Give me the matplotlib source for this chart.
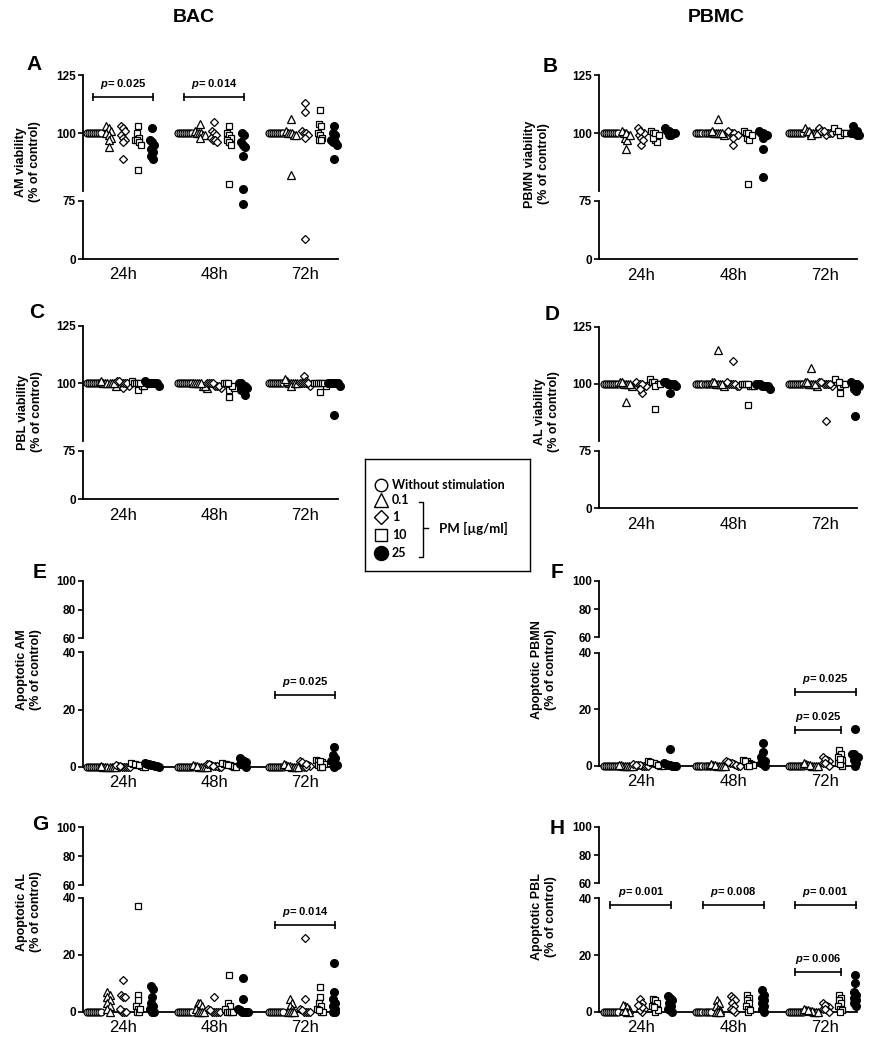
import matplotlib.pyplot as plt

W, H = 871, 1050
plt.rcParams['font.family'] = ['Liberation Sans', 'DejaVu Sans']
plt.rcParams['mathtext.fontset'] = 'custom'
plt.rcParams['mathtext.it'] = 'Liberation Sans:italic:bold'
plt.rcParams['mathtext.rm'] = 'Liberation Sans:bold'

# ----- DATA -----
TIMES = ["24h", "48h", "72h"]
GROUPS = ["Without stimulation", "0.1", "1", "10", "25"]

# each time point: [control, 0.1, 1, 10, 25 ug/ml], values in % of control
AM_VIAB = {
    "24h": [[100, 100, 100, 100, 100, 100, 100, 100],
            [103, 102, 101, 100, 99, 98, 97, 94],
            [103, 102, 101, 99, 98, 97, 96, 89],
            [103, 100, 98, 97, 97, 96, 95, 84],
            [102, 97, 96, 95, 93, 92, 90, 89]],
    "48h": [[100, 100, 100, 100, 100, 100, 100, 100],
            [104, 101, 100, 100, 100, 99, 99, 98],
            [105, 101, 100, 99, 98, 97, 97, 96],
            [103, 100, 99, 98, 97, 96, 95, 78],
            [100, 99, 96, 95, 94, 90, 76, 71]],
    "72h": [[100, 100, 100, 100, 100, 100, 100, 100],
            [106, 101, 100, 100, 100, 99, 99, 82],
            [113, 109, 101, 100, 100, 99, 98, 26],
            [110, 104, 103, 100, 99, 98, 97, 97],
            [103, 100, 99, 97, 96, 96, 95, 89]],
}
PBMN_VIAB = {
    "24h": [[100, 100, 100, 100, 100, 100, 100, 100],
            [99, 100, 98, 97, 93, 101, 100, 99],
            [102, 100, 95, 99, 98, 97, 100, 101],
            [101, 100, 99, 97, 96, 98, 100, 99],
            [102, 101, 100, 100, 99, 99, 100, 101]],
    "48h": [[100, 100, 100, 100, 100, 100, 100, 100],
            [106, 100, 100, 101, 100, 99, 100, 100],
            [95, 100, 100, 99, 101, 100, 99, 98],
            [101, 100, 99, 98, 97, 78, 100, 99],
            [100, 99, 98, 93, 81, 100, 99, 101]],
    "72h": [[100, 100, 100, 100, 100, 100, 100, 100],
            [102, 101, 100, 100, 101, 100, 99, 100],
            [102, 100, 101, 100, 99, 100, 101, 100],
            [101, 102, 100, 100, 99, 101, 100, 100],
            [103, 101, 100, 100, 99, 99, 100, 101]],
}
PBL_VIAB = {
    "24h": [[100, 100, 100, 100, 100, 100, 100, 100],
            [100, 100, 101, 100, 99, 100, 100, 100],
            [101, 100, 98, 99, 100, 101, 100, 100],
            [101, 100, 97, 99, 100, 100, 99, 100],
            [100, 100, 100, 99, 101, 100, 100, 100]],
    "48h": [[100, 100, 100, 100, 100, 100, 100, 100],
            [100, 99, 100, 98, 99, 100, 100, 100],
            [100, 99, 98, 99, 100, 100, 99, 100],
            [100, 99, 97, 94, 98, 100, 99, 100],
            [100, 99, 98, 97, 95, 97, 99, 100]],
    "72h": [[100, 100, 100, 100, 100, 100, 100, 100],
            [100, 101, 100, 102, 100, 99, 100, 100],
            [103, 100, 100, 101, 100, 100, 99, 100],
            [100, 100, 96, 100, 99, 100, 100, 100],
            [100, 100, 100, 100, 86, 100, 99, 100]],
}
AL_VIAB = {
    "24h": [[100, 100, 100, 100, 100, 100, 100, 100],
            [101, 100, 92, 100, 99, 100, 101, 100],
            [96, 99, 100, 101, 100, 99, 100, 98],
            [102, 101, 89, 100, 101, 100, 99, 100],
            [101, 100, 96, 100, 99, 100, 101, 100]],
    "48h": [[100, 100, 100, 100, 100, 100, 100, 100],
            [115, 100, 101, 100, 100, 99, 101, 100],
            [110, 100, 100, 101, 99, 100, 100, 99],
            [100, 99, 91, 100, 99, 100, 100, 99],
            [99, 100, 99, 98, 100, 99, 100, 99]],
    "72h": [[100, 100, 100, 100, 100, 100, 100, 100],
            [107, 100, 101, 100, 99, 100, 100, 101],
            [84, 101, 100, 100, 99, 100, 100, 101],
            [101, 102, 96, 100, 99, 100, 100, 101],
            [100, 101, 97, 86, 100, 99, 100, 98]],
}
AM_APOP = {
    "24h": [[0, 0, 0, 0, 0, 0, 0, 0],
            [0, 0, 0, 0, 0.2, 0, 0, 0],
            [0, 0, 0.3, 0.5, 0, 0.2, 0, 0],
            [0.5, 1, 1.2, 0.8, 0.3, 0, 0.5, 0],
            [1, 0.8, 1.2, 0.5, 0.3, 0, 0.6, 0.4]],
    "48h": [[0, 0, 0, 0, 0, 0, 0, 0],
            [0, 0.3, 0.5, 0, 0.2, 0, 0, 0],
            [0.5, 1, 0.3, 0, 0.8, 0.2, 0, 0.4],
            [1, 0.5, 1.2, 0, 0.3, 0.8, 0, 0.6],
            [3, 2.5, 1.5, 1, 0.5, 0, 0.8, 2]],
    "72h": [[0, 0, 0, 0, 0, 0, 0, 0],
            [0, 0.5, 0.2, 0, 0.8, 0, 0.3, 0],
            [2, 1, 0.5, 0, 1.5, 0.3, 0, 0.8],
            [2.5, 2, 1.5, 1, 0.5, 0, 0, 2],
            [7, 4, 3, 2, 1, 0.5, 0, 1.5]],
}
PBMN_APOP = {
    "24h": [[0, 0, 0, 0, 0, 0, 0, 0],
            [0, 0, 0.2, 0, 0, 0.3, 0, 0],
            [0, 0.3, 0.5, 0, 0.2, 0, 0.4, 0],
            [1.5, 1, 0.5, 0, 0.8, 0, 0.3, 1.2],
            [6, 0.5, 0, 0.3, 0, 1, 0, 0.2]],
    "48h": [[0, 0, 0, 0, 0, 0, 0, 0],
            [0, 0.3, 0, 0.5, 0.2, 0, 0, 0],
            [1, 1.5, 0.5, 0, 0.8, 0.3, 0, 1.2],
            [2, 1.5, 1, 0.5, 0, 1.8, 0.3, 0],
            [8, 5, 3, 2, 1, 0.5, 0, 1.5]],
    "72h": [[0, 0, 0, 0, 0, 0, 0, 0],
            [0, 0.5, 0.3, 0, 1, 0.2, 0, 0],
            [3, 2, 1.5, 1, 0.5, 0, 2.5, 0.8],
            [5.5, 4, 3, 2, 1, 0, 0.5, 2.5],
            [13, 4, 4, 3, 2, 1, 0, 3]],
}
AL_APOP = {
    "24h": [[0, 0, 0, 0, 0, 0, 0, 0],
            [7, 6, 5, 4, 3, 2, 1, 0],
            [11, 6, 5, 5, 0, 0, 1, 0],
            [37, 6, 4, 2, 1, 0, 0, 1],
            [8, 9, 5, 3, 2, 1, 0, 0]],
    "48h": [[0, 0, 0, 0, 0, 0, 0, 0],
            [3, 3, 2, 1, 0, 0, 0, 0],
            [5, 1, 0, 0, 0, 0.5, 0, 0],
            [13, 3, 2, 1, 0, 0, 0, 0],
            [12, 4.5, 1, 0.5, 0, 0, 0, 0]],
    "72h": [[0, 0, 0, 0, 0, 0, 0, 0],
            [4.5, 3, 2, 1, 0, 0, 0, 0],
            [26, 4.5, 1, 0, 0, 0, 0.5, 0],
            [8.5, 5, 3, 2, 1, 0, 0, 0.5],
            [17, 7, 4.5, 3, 2, 1, 0, 0]],
}
PBL_APOP = {
    "24h": [[0, 0, 0, 0, 0, 0, 0, 0],
            [0.5, 1, 2, 2.5, 1.5, 0, 0, 0.3],
            [4.5, 3, 2, 1, 0, 0.5, 1.5, 2.5],
            [4.5, 4, 3, 2, 1, 0, 0.5, 1.5],
            [5.5, 5, 4, 3, 2, 1, 0, 0.5]],
    "48h": [[0, 0, 0, 0, 0, 0, 0, 0],
            [4, 3, 2, 1, 0, 0.5, 0, 0],
            [5.5, 5, 4, 3, 2, 1, 0, 0.5],
            [6, 5, 4, 3, 2, 1, 0, 0.5],
            [7.5, 6, 5, 4, 3, 2, 1, 0]],
    "72h": [[0, 0, 0, 0, 0, 0, 0, 0],
            [0, 0.5, 0.3, 0, 1, 0.2, 0, 0.5],
            [3, 2, 1.5, 1, 0.5, 0, 2.5, 0.8],
            [6, 5, 4, 3, 2, 1, 0.5, 0],
            [13, 10, 7, 6, 5, 4, 3, 2]],
}

# significance bars: (time index, from group, to group, y, p value)
BRACKETS_A = [(0, 0, 4, 115.5, "0.025"), (1, 0, 4, 115.5, "0.014")]
BRACKETS_E = [(2, 0, 4, 25, "0.025")]
BRACKETS_F = [(2, 0, 4, 26, "0.025"), (2, 0, 3, 12.5, "0.025")]
BRACKETS_G = [(2, 0, 4, 30.4, "0.014")]
BRACKETS_H = [(0, 0, 4, 37.6, "0.001"), (1, 0, 4, 37.6, "0.008"),
              (2, 0, 4, 37.6, "0.001"), (2, 0, 3, 13.9, "0.006")]

# ----- STYLE -----
MARKERS = ['o', '^', 'D', 's', 'o']
FACES = ['white', 'white', 'white', 'white', 'black']
SIZES = [5.0, 5.6, 4.2, 5.0, 5.6]
SUB_STEP = 0.16
SPREAD = 0.022
COLS = {0: (83, 338, (-0.44, 2.36)), 1: (599, 857, (-0.45, 2.34))}

KINDS = {
    'viab': dict(up=(75, 125), lo=(0, 75), up_ticks=[100, 125], lo_ticks=[0, 75],
                 split=75, rowgap=2.2),
    'apop': dict(up=(60, 100), lo=(0, 40), up_ticks=[60, 80, 100], lo_ticks=[0, 20, 40],
                 split=50, rowgap=1.8),
}


def px_rect(x0, x1, ytop, ybot):
    return [x0 / W, 1 - ybot / H, (x1 - x0) / W, (ybot - ytop) / H]


def spread_x(center, vals, gap):
    # scatter-dot layout: points of similar value are spread side by side
    order = sorted(range(len(vals)), key=lambda i: -vals[i])
    xs = [0.0] * len(vals)
    rows, cur = [], []
    for i in order:
        if cur and vals[cur[0]] - vals[i] > gap:
            rows.append(cur)
            cur = []
        cur.append(i)
    rows.append(cur)
    for row in rows:
        m = len(row)
        for j, i in enumerate(row):
            xs[i] = center + (j - (m - 1) / 2) * SPREAD
    return xs


fig = plt.figure(figsize=(W / 100, H / 100), dpi=100)


def style_axis(ax, ylim, ticks, bottom, xlim):
    ax.set_ylim(*ylim)
    ax.set_xlim(*xlim)
    for s in ['top', 'right']:
        ax.spines[s].set_visible(False)
    ax.spines['left'].set_linewidth(1.3)
    ax.spines['bottom'].set_linewidth(1.3)
    ax.spines['bottom'].set_visible(bottom)
    ax.set_yticks(ticks, [str(t) for t in ticks], fontweight='bold', fontsize=8.5)
    ax.tick_params(axis='y', length=3.5, width=1.2, pad=1.5)
    ax.patch.set_alpha(0)
    if bottom:
        ax.set_xticks(range(len(TIMES)), TIMES, fontsize=12)
        ax.tick_params(axis='x', length=0, pad=6)
    else:
        ax.set_xticks([])


def panel(col, rows, data, kind, ylabel, lab_xy, letter, let_xy, brackets=()):
    x0, x1, xlim = COLS[col]
    ut, ub, lt, lb = rows
    k = KINDS[kind]
    ax_up = fig.add_axes(px_rect(x0, x1, ut, ub))
    ax_lo = fig.add_axes(px_rect(x0, x1, lt, lb))
    style_axis(ax_up, k['up'], k['up_ticks'], False, xlim)
    style_axis(ax_lo, k['lo'], k['lo_ticks'], True, xlim)
    for t, time in enumerate(TIMES):
        for g, vals in enumerate(data[time]):
            xs = spread_x(t + (g - 2) * SUB_STEP, vals, k['rowgap'])
            for ax, upper in ((ax_up, True), (ax_lo, False)):
                px = [x for x, v in zip(xs, vals) if (v >= k['split']) == upper]
                py = [v for v in vals if (v >= k['split']) == upper]
                ax.plot(px, py, ls='none', marker=MARKERS[g], ms=SIZES[g], mfc=FACES[g],
                        mec='black', mew=0.9, clip_on=False, zorder=3)
    for t, g0, g1, y, p in brackets:
        ax = ax_up if y >= k['split'] else ax_lo
        xa = t + (g0 - 2) * SUB_STEP - 0.01
        xb = t + (g1 - 2) * SUB_STEP + 0.01
        ax.plot([xa, xb], [y, y], color='black', lw=1.2, marker='|', ms=6, mew=1.2,
                clip_on=False, zorder=4)
        ax.annotate(r'$\mathit{p}$= ' + p, ((xa + xb) / 2, y), xytext=(0, 4.5),
                    textcoords='offset points', ha='center', va='bottom',
                    fontsize=8, fontweight='bold', annotation_clip=False)
    fig.text(lab_xy[0] / W, 1 - lab_xy[1] / H, ylabel, rotation=90, ha='center',
             va='center', multialignment='center', fontsize=9, fontweight='bold',
             linespacing=1.15)
    fig.text(let_xy[0] / W, 1 - let_xy[1] / H, letter, ha='center', va='center',
             fontsize=15, fontweight='bold')


panel(0, (75, 191.3, 200.7, 259), AM_VIAB, 'viab', "AM viability\n(% of control)",
      (28, 162), "A", (34, 64), BRACKETS_A)
panel(1, (75, 191.3, 200.7, 259.3), PBMN_VIAB, 'viab', "PBMN viability\n(% of control)",
      (537, 164), "B", (550, 66))
panel(0, (326, 440.6, 450.7, 499.3), PBL_VIAB, 'viab', "PBL viability\n(% of control)",
      (30, 412), "C", (37, 313))
panel(1, (326.7, 441.2, 450.7, 508.3), AL_VIAB, 'viab', "AL viability\n(% of control)",
      (547, 412), "D", (552, 315))
panel(0, (580.7, 638.3, 652.3, 766.7), AM_APOP, 'apop', "Apoptotic AM\n(% of control)",
      (29, 670), "E", (40, 573), BRACKETS_E)
panel(1, (580.7, 637.3, 652.7, 765.7), PBMN_APOP, 'apop', "Apoptotic PBMN\n(% of control)",
      (544, 670), "F", (557, 573), BRACKETS_F)
panel(0, (827.3, 885, 897.7, 1011.7), AL_APOP, 'apop', "Apoptotic AL\n(% of control)",
      (29, 912), "G", (40, 825), BRACKETS_G)
panel(1, (826.7, 883.3, 898.3, 1011.7), PBL_APOP, 'apop', "Apoptotic PBL\n(% of control)",
      (544, 917), "H", (557, 828), BRACKETS_H)

fig.text(194 / W, 1 - 18 / H, "BAC", ha='center', va='center', fontsize=14, fontweight='bold')
fig.text(716 / W, 1 - 18 / H, "PBMC", ha='center', va='center', fontsize=14, fontweight='bold')

# ----- LEGEND BOX -----
lg = fig.add_axes(px_rect(365, 530, 459, 571))
lg.set_xlim(365, 530)
lg.set_ylim(571, 459)
lg.set_xticks([])
lg.set_yticks([])
for s in lg.spines.values():
    s.set_linewidth(1.0)
item_y = [485, 500, 517, 535, 553]
for g, name in enumerate(GROUPS):
    lg.plot(381, item_y[g], ls='none', marker=MARKERS[g], ms=SIZES[g] * 1.8,
            mfc=FACES[g], mec='black', mew=1.0)
    lg.text(392, item_y[g], name, ha='left', va='center', fontsize=9,
            fontweight='bold', family=['Lato', 'DejaVu Sans'])
lg.plot([419, 423, 423, 419], [502, 502, 557, 557], color='black', lw=1.0)
lg.plot([423, 428], [528, 528], color='black', lw=1.0)
lg.text(439, 528, "PM [µg/ml]", ha='left', va='center', fontsize=9.5,
        fontweight='bold', family=['Lato', 'DejaVu Sans'])

fig.savefig("out.png", dpi=100)
